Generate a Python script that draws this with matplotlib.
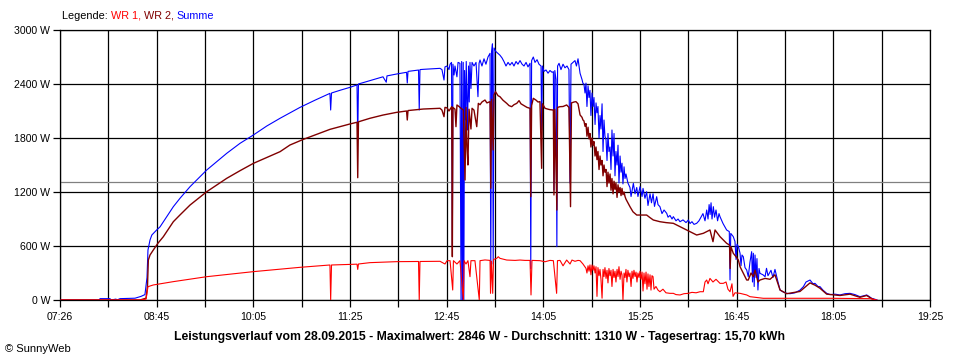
import matplotlib
matplotlib.use("Agg")
import matplotlib.pyplot as plt
import numpy as np

plt.rcParams['font.family'] = ['Liberation Sans', 'DejaVu Sans']

# ---- data (time in minutes of the day, power in W) ----
sum_t = [
    446, 477.5, 478.1, 486.4, 487.2, 491.3, 492.2, 494.7, 507.1, 512.0,
    515.3, 517.0, 517.8, 519.5, 521.0, 525.0, 527.8, 533.3, 538.8, 544.3,
    552.6, 566.4, 574.7, 583.0, 594.0, 605.0, 616.1, 627.1, 643.6, 656.0,
    668.4, 669.0, 669.7, 676.7, 685.0, 690.8, 691.4, 692.0, 701.5, 712.3,
    715.0, 715.6, 723.6, 731.8, 732.4, 733.0, 741.7, 742.3, 742.9, 745.7,
    753.7,
    759.5, 761.1, 762.8, 763.6, 765.3, 766.9, 767.8, 769.0, 769.7, 770.2,
    771.1, 771.9, 773.5, 774.4, 776.0, 776.9, 777.4, 778.1, 778.7, 779.2,
    779.8, 780.6, 781.2, 782.2, 783.1, 783.7, 784.3, 785.1, 786.0, 787.6,
    789.3, 790.9, 791.8, 792.6, 794.2, 795.9, 797.5, 799.2, 800.9, 801.5,
    802.2, 802.9, 803.5, 804.2, 805.8, 807.5, 809.1, 810.8, 812.4, 814.1,
    815.8, 817.4, 819.1, 820.7, 822.4, 824.0, 825.7, 827.4, 829.0, 830.7,
    832.3, 834.0, 834.6, 835.3, 836.7, 838.1, 839.8, 841.4, 843.1, 843.6,
    844.3, 845.5, 847.2, 848.9, 850.5, 852.2, 853.3, 853.8, 854.5, 855.5,
    856.2, 856.8, 858.0, 859.6, 861.3, 862.9, 864.6, 866.2, 867.1, 867.9,
    869.6, 871.2, 872.4, 873.7, 875.4, 877.0, 877.8,
    878.6, 879.5, 880.3, 881.1, 882.0, 882.8, 883.6, 884.4, 885.3, 886.1,
    886.9, 887.8, 888.6, 889.4, 890.2, 891.1, 891.9, 892.7, 893.6, 894.4,
    895.2, 896.0, 896.9, 897.7, 898.5, 899.3, 900.2, 901.0, 901.8, 902.7,
    903.5, 904.3, 905.1, 906.0, 906.8, 907.6, 908.5, 909.3, 910.1, 910.9,
    911.8, 912.6, 913.4,
    915.0, 916.7, 917.6, 919.5, 920.9, 922.3, 923.3, 925.0, 926.7, 927.5,
    929.1, 930.5, 931.6, 933.3, 934.5, 935.8, 937.0, 938.8, 939.9, 941.5,
    943.2, 944.9, 947.1, 948.2, 949.8, 951.5, 952.6, 954.8, 956.5, 958.1,
    960.6, 963.1, 965.0, 966.4, 968.0, 969.7, 971.9, 973.8, 975.5,
    977.1, 978.8, 980.2, 981.3, 982.2, 983.0, 983.8, 984.6, 985.7, 986.7,
    987.9, 989.2, 990.4, 991.2, 993.7, 996.7, 998.9, 999.5, 1000.1, 1002.2,
    1003.6, 1004.5, 1005.3, 1006.4, 1007.8, 1008.6, 1009.4, 1010.5, 1011.9, 1013.3,
    1014.6, 1016.0, 1017.4, 1018.1, 1018.8, 1019.5, 1020.2, 1021.0, 1021.8, 1022.6,
    1023.5, 1024.3, 1026.8, 1028.5, 1029.7, 1030.9, 1033.4, 1035.0, 1036.7, 1038.1,
    1039.2, 1040.9,
    1043.4, 1046.4, 1049.1, 1053.3, 1057.4, 1060.2, 1062.4, 1065.7, 1068.2, 1069.8,
    1072.3, 1074.0, 1076.4, 1079.5, 1082.3, 1086.4, 1090.5, 1094.7, 1098.8, 1102.9,
    1107.0, 1109.6, 1112.6, 1114.5, 1116.7, 1119.5, 1121.1]
sum_w = [
    0, 0, 15, 15, 0, 10, 0, 15, 20, 40,
    60, 250, 555, 667, 722, 778, 813, 926, 1037, 1130,
    1259, 1444, 1537, 1630, 1741, 1833, 1933, 2019, 2140, 2220,
    2296, 2111, 2300, 2330, 2363, 2390, 1778, 2400, 2437, 2480,
    2420, 2490, 2511, 2530, 2411, 2540, 2555, 2111, 2560, 2563,
    2570,
    2574, 2560, 2444, 2590, 2600, 2560, 2620, 2640, 593, 2620,
    2500, 2600, 2480, 2640, 2630, 0, 2650, 0, 2640, 0,
    2550, 2000, 2650, 1889, 2600, 2200, 2640, 2350, 2640, 2600,
    2640, 2259, 2630, 2667, 2600, 2680, 2620, 2700, 2741, 300,
    2760, 2846, 400, 2800, 2760, 2740, 2720, 2690, 2650, 2600,
    2640, 2610, 2640, 2600, 2650, 2620, 2660, 2620, 2600, 2640,
    2590, 2630, 350, 2660, 2700, 2640, 2670, 2620, 2600, 1889,
    2600, 2540, 2556, 2520, 2550, 2530, 2537, 1222, 2550, 2450,
    593, 2600, 2630, 2560, 2620, 2580, 2600, 2560, 1300, 2620,
    2640, 2660, 2600, 2680, 2519, 2450, 2407,
    2400, 2300, 2410, 2150, 2380, 2250, 2330, 2050, 2300, 2150,
    2250, 1950, 2190, 2080, 2150, 1800, 2050, 1900, 2180, 1650,
    2000, 1820, 1780, 1550, 1850, 1650, 1700, 1450, 1889, 1600,
    1850, 1380, 1650, 1500, 1720, 1300, 1600, 1420, 1520, 1290,
    1480, 1350, 1400,
    1300, 1250, 1150, 1296, 1180, 1250, 1150, 1259, 1150, 1240,
    1130, 1203, 1050, 1180, 1080, 1180, 1040, 1148, 1060, 1037,
    960, 1000, 963, 920, 940, 900, 926, 880, 900, 870,
    890, 860, 889, 850, 870, 840, 852, 880, 920,
    960, 880, 1000, 900, 1060, 950, 1080, 900, 1037, 920,
    1000, 880, 960, 926, 850, 778, 760, 222, 740, 704,
    650, 450, 620, 593, 519, 380, 500, 481, 360, 333,
    259, 420, 537, 200, 519, 150, 500, 250, 460, 111,
    350, 296, 280, 259, 352, 270, 330, 250, 340, 260,
    200, 111,
    90, 74, 70, 80, 110, 148, 200, 222, 180, 185,
    150, 148, 110, 74, 60, 65, 56, 70, 74, 60,
    37, 45, 56, 40, 19, 8, 0]

wr2_t = [
    446, 511.2, 516.2, 517.4, 518.1, 519.5, 522.2, 526.0, 530.5, 538.8,
    544.3, 552.6, 566.4, 583.0, 594.0, 605.0, 627.1, 635.3, 646.4, 668.4,
    685.0, 690.8, 691.4, 692.0, 701.5, 712.3, 723.6, 731.8, 732.4, 733.0,
    745.7,
    759.5, 761.1, 762.8, 763.6, 765.3, 766.9, 769.2, 769.7, 770.2, 771.9,
    772.7, 773.5, 775.2, 776.9, 778.8, 780.2, 781.0, 781.8, 782.6, 783.5,
    785.1, 786.0, 787.6, 789.9, 791.2, 792.6, 794.2, 796.7, 798.3, 800.9,
    801.5, 802.2, 803.5, 804.2, 805.4, 807.5, 809.1, 811.6, 814.7, 816.6,
    818.8, 820.7, 823.0, 824.9, 826.5, 829.0, 831.5, 834.0, 834.6, 835.3,
    836.7, 839.0, 840.6, 842.2, 843.6, 844.3, 846.4, 848.9, 850.5, 853.3,
    853.8, 854.5, 856.2, 856.8, 858.8, 861.3, 864.3, 866.2, 867.5, 868.3,
    870.4, 872.0, 873.7, 875.4, 877.0, 877.8,
    878.6, 879.5, 880.3, 881.1, 882.0, 882.8, 883.6, 884.4, 885.3, 886.1,
    886.9, 887.8, 888.6, 889.4, 890.2, 891.1, 891.9, 892.7, 893.6, 894.4,
    895.2, 896.0, 896.9, 897.7, 898.5, 899.3, 900.2, 901.0, 901.8, 902.7,
    903.5, 904.3, 905.1, 906.0, 906.8, 907.6, 908.5, 909.3, 910.1, 910.9,
    911.8, 912.6, 913.4, 915.0, 916.7,
    919.2, 922.3, 925.0, 930.5, 933.3, 936.0, 941.5, 946.5, 952.6, 958.1,
    963.6, 966.4, 971.9, 977.4, 982.9, 985.4, 987.1, 991.2, 996.7, 999.1,
    999.6, 1000.3, 1002.2, 1004.5, 1006.4, 1007.8, 1010.5, 1013.3, 1014.6, 1016.9,
    1018.8, 1020.2, 1022.6, 1024.3, 1028.5, 1032.6, 1036.7, 1040.9, 1046.4, 1057.4,
    1065.7, 1069.8, 1074.0, 1079.5, 1090.5, 1098.8, 1107.0, 1112.6, 1116.7, 1119.5]
wr2_w = [
    0, 0, 20, 150, 444, 500, 555, 630, 703, 870,
    945, 1055, 1203, 1352, 1437, 1518, 1648, 1722, 1785, 1896,
    1956, 1975, 1359, 1980, 2019, 2055, 2085, 2100, 2000, 2105,
    2122,
    2130, 2110, 2037, 2140, 2135, 2100, 2148, 481, 2140, 2120,
    1926, 2167, 2150, 2130, 2111, 1333, 2140, 1700, 1500, 2120,
    1900, 2130, 2110, 1926, 2185, 2170, 2200, 2222, 2190, 2204,
    1241, 2230, 1667, 2280, 2315, 2270, 2259, 2220, 2185, 2160,
    2148, 2170, 2185, 2215, 2180, 2160, 2140, 2130, 1148, 2160,
    2241, 2220, 2200, 2204, 1463, 2180, 2130, 2120, 2115, 2111,
    1167, 2120, 1000, 2140, 2148, 2150, 2167, 2140, 1037, 2190,
    2200, 2204, 2180, 2056, 2030, 2000,
    1990, 1930, 1960, 1820, 1920, 1790, 1850, 1700, 1800, 1720,
    1760, 1600, 1700, 1560, 1650, 1450, 1600, 1500, 1550, 1380,
    1500, 1420, 1450, 1260, 1420, 1300, 1400, 1220, 1350, 1180,
    1320, 1230, 1300, 1140, 1280, 1200, 1250, 1160, 1240, 1170,
    1200, 1150, 1120, 1080, 1037,
    980, 944, 944, 944, 915, 889, 870, 860, 852, 815,
    778, 760, 722, 741, 778, 648, 778, 704, 630, 610,
    350, 590, 519, 480, 444, 370, 296, 222, 222, 300,
    259, 333, 200, 222, 240, 230, 280, 111, 70, 95,
    190, 165, 130, 65, 50, 65, 30, 50, 15, 0]

wr1_t = [
    446, 511.2, 516.2, 517.0, 517.8, 522.2, 538.8, 566.4, 605.0, 635.3,
    643.6, 668.4, 669.0, 669.7, 690.8, 691.4, 692.0, 701.5, 723.6, 741.7,
    742.3, 742.9,
    759.5, 763.6, 765.3, 767.8, 770.0, 770.6, 773.5, 776.0, 778.8, 779.4,
    781.0, 782.6, 784.3, 785.1, 788.4, 792.0, 792.6, 796.7, 800.9, 801.3,
    802.1, 803.1, 803.8, 806.4, 807.7, 809.1, 814.7, 821.6, 825.7, 829.8,
    834.0, 834.8, 835.6, 842.2, 846.4, 850.5, 853.3, 856.0, 856.7, 858.8,
    861.3, 864.3, 867.1, 868.7, 871.2, 873.7, 875.4, 877.8,
    880.3, 881.1, 882.0, 882.8, 883.6, 884.4, 885.3, 886.1, 886.9, 887.8,
    888.6, 889.4, 890.2, 891.1, 891.9, 892.7, 893.6, 894.4, 895.2, 896.0,
    896.9, 897.7, 898.5, 899.3, 900.2, 901.0, 901.8, 902.7, 903.5, 904.3,
    905.1, 906.0, 906.8, 907.6, 908.5, 909.3, 910.1, 910.9, 911.8, 912.6,
    913.4, 914.2, 915.0, 915.9, 916.7, 917.6, 918.4, 919.2, 920.0, 920.9,
    921.7, 922.5, 923.3, 924.2, 925.0, 925.8, 926.7, 927.5, 928.3, 929.1,
    930.0, 930.8, 931.6, 932.4, 933.3, 934.1, 934.9, 935.8, 936.6, 938.2,
    939.9, 941.5, 944.0, 946.5, 949.8, 952.6, 954.8, 958.1, 961.4, 965.0,
    968.0, 971.4, 974.7, 977.4, 978.8, 980.2, 981.3, 982.9, 985.4, 987.9,
    991.2, 993.9, 996.2, 997.8, 999.5, 1001.1, 1002.0, 1003.6, 1007.8, 1013.3,
    1016.0, 1027.0, 1057.4, 1082.3, 1115.3, 1121.1]
wr1_w = [
    0, 0, 10, 80, 148, 167, 204, 259, 315, 352,
    363, 389, 0, 389, 398, 340, 400, 415, 426, 428,
    0, 428,
    430, 400, 437, 437, 111, 437, 400, 437, 0, 437,
    400, 437, 259, 437, 437, 0, 437, 445, 440, 74,
    430, 74, 450, 463, 481, 463, 444, 440, 444, 440,
    440, 56, 440, 437, 425, 440, 437, 74, 437, 440,
    380, 444, 400, 444, 430, 440, 437, 400,
    352, 300, 380, 320, 390, 280, 389, 330, 380, 300,
    370, 40, 360, 270, 340, 230, 20, 340, 260, 360,
    240, 330, 190, 350, 270, 330, 150, 340, 250, 320,
    200, 340, 260, 370, 230, 320, 280, 0, 300, 250,
    340, 200, 330, 260, 300, 150, 320, 240, 330, 260,
    310, 200, 300, 250, 320, 230, 310, 100, 300, 180,
    310, 120, 290, 150, 280, 110, 270, 259, 120, 150,
    110, 92, 120, 80, 74, 74, 60, 56, 70, 74,
    85, 80, 92, 92, 200, 222, 180, 240, 200, 230,
    185, 185, 200, 120, 92, 180, 40, 80, 74, 56,
    37, 19, 19, 19, 15, 0]

average_w = 1310
x_tick_labels = ["07:26", "08:45", "10:05", "11:25", "12:45",
                 "14:05", "15:25", "16:45", "18:05", "19:25"]
y_tick_values = [0, 600, 1200, 1800, 2400, 3000]
title_text = ("Leistungsverlauf vom 28.09.2015 - Maximalwert: 2846 W - "
              "Durchschnitt: 1310 W - Tagesertrag: 15,70 kWh")

# ---- figure ----
fig = plt.figure(figsize=(9.6, 3.6), dpi=100)
ax = fig.add_axes([60 / 960, 60 / 360, 870 / 960, 270 / 360])

x0, x1 = 445, 1165
grid_x = np.arange(x0, x1 + 1, 40)
labels = []
for i in range(len(grid_x)):
    labels.append(x_tick_labels[i // 2] if i % 2 == 0 else "")

ax.set_xlim(x0, x1)
ax.set_ylim(0, 3000)
ax.set_xticks(grid_x)
ax.set_xticklabels(labels)
ax.set_yticks(y_tick_values)
ax.set_yticklabels([f"{v} W" for v in y_tick_values])
ax.tick_params(direction='out', length=5, width=0.9, color='black',
               labelsize=7.6, pad=2)
ax.tick_params(axis='x', pad=4)
ax.grid(True, color='black', lw=0.9)
ax.set_axisbelow(True)
for s in ax.spines.values():
    s.set_color('black')
    s.set_linewidth(0.9)

ax.axhline(average_w, color='#808080', lw=0.9, zorder=1.5)

ax.plot(sum_t, sum_w, color='#0000ff', lw=0.8, zorder=3)
ax.plot(wr2_t, wr2_w, color='#800000', lw=1.0, zorder=4)
ax.plot(wr1_t, wr1_w, color='#ff0000', lw=0.8, zorder=5)

# legend line
fs_leg = 7.8
t0 = fig.text(62 / 960, 1 - 16 / 360, "Legende: ", fontsize=fs_leg,
              color='black', va='center', ha='left')
t1 = ax.annotate("WR 1, ", xy=(1, 0), xycoords=t0, va='bottom',
                 fontsize=fs_leg, color='#ff0000', annotation_clip=False)
t2 = ax.annotate("WR 2, ", xy=(1, 0), xycoords=t1, va='bottom',
                 fontsize=fs_leg, color='#800000', annotation_clip=False)
t3 = ax.annotate("Summe", xy=(1, 0), xycoords=t2, va='bottom',
                 fontsize=fs_leg, color='#0000ff', annotation_clip=False)

fig.text(479 / 960, 1 - 337 / 360, title_text, fontsize=8.8,
         fontweight='bold', ha='center', va='center')
fig.text(5 / 960, 1 - 349 / 360, "\u00a9 SunnyWeb", fontsize=8.0,
         ha='left', va='center')

fig.savefig("out.png", dpi=100, facecolor='white')
